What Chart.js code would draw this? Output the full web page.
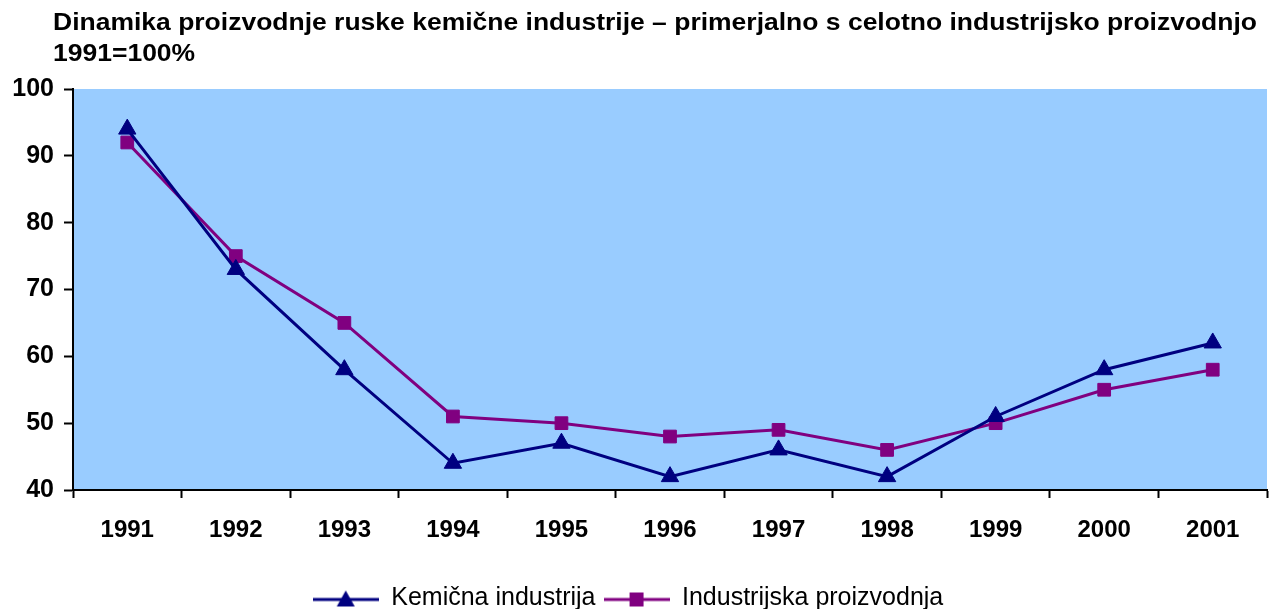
<!DOCTYPE html>
<html>
<head>
<meta charset="utf-8">
<script src="https://cdn.jsdelivr.net/npm/chart.js@4"></script>
<style>
  html, body { margin: 0; padding: 0; background: #fff; overflow: hidden; }
  #wrap { width: 1278px; height: 609px; position: relative; }
</style>
</head>
<body>
<div id="wrap"><canvas id="chemChart"></canvas></div>
<script>
const titleLines = ['Dinamika proizvodnje ruske kemične industrije – primerjalno s celotno industrijsko proizvodnjo', '1991=100%'];
const years = ['1991', '1992', '1993', '1994', '1995', '1996', '1997', '1998', '1999', '2000', '2001'];
const chemical = [94, 73, 58, 44, 47, 42, 46, 42, 51, 58, 62];
const industry = [92, 75, 65, 51, 50, 48, 49, 46, 50, 55, 58];
const seriesNames = ['Kemična industrija', 'Industrijska proizvodnja'];

const NAVY = '#000080';
const PURPLE = '#800080';
const FONT = '"Liberation Sans", Arial, sans-serif';

// small line+marker images for the legend
function legendIcon(color, shape) {
    const c = document.createElement('canvas');
    c.width = 66;
    c.height = 20;
    const g = c.getContext('2d');
    g.strokeStyle = color;
    g.lineWidth = 3;
    g.beginPath();
    g.moveTo(0, 11);
    g.lineTo(66, 11);
    g.stroke();
    g.fillStyle = color;
    g.beginPath();
    if (shape === 'triangle') {
        g.moveTo(33, 2);
        g.lineTo(42, 18);
        g.lineTo(24, 18);
        g.closePath();
    } else {
        g.rect(26, 4, 14, 14);
    }
    g.fill();
    return c;
}

const icons = [legendIcon(NAVY, 'triangle'), legendIcon(PURPLE, 'rect')];

const titlePlugin = {
    id: 'leftTitle',
    afterDraw(chart) {
        const ctx = chart.ctx;
        ctx.save();
        ctx.fillStyle = '#000';
        ctx.font = 'bold 23px ' + FONT;
        ctx.textBaseline = 'alphabetic';
        ctx.textAlign = 'left';
        const w = ctx.measureText(titleLines[0]).width;
        const sx = 1204 / w;
        ctx.translate(53, 0);
        ctx.scale(sx, 1);
        ctx.fillText(titleLines[0], 0, 30);
        ctx.fillText(titleLines[1], 0, 61);
        ctx.restore();
    }
};

const legendShift = {
    id: 'legendShift',
    afterLayout(chart) {
        if (chart.legend) {
            chart.legend.left -= 11;
            chart.legend.right -= 11;
        }
    }
};

const ctx = document.getElementById('chemChart').getContext('2d');
new Chart(ctx, {
    type: 'line',
    data: {
        labels: years,
        datasets: [{
            label: seriesNames[0],
            data: chemical,
            borderColor: NAVY,
            backgroundColor: NAVY,
            borderWidth: 3,
            pointStyle: 'triangle',
            pointRadius: 10,
            pointBorderWidth: 1,
            tension: 0
        }, {
            label: seriesNames[1],
            data: industry,
            borderColor: PURPLE,
            backgroundColor: PURPLE,
            borderWidth: 3,
            pointStyle: 'rect',
            pointRadius: 9,
            pointBorderWidth: 1,
            tension: 0
        }]
    },
    options: {
        responsive: true,
        maintainAspectRatio: false,
        animation: false,
        layout: {
            padding: { top: 89, left: 0, right: 0, bottom: -12 }
        },
        scales: {
            x: {
                offset: true,
                grid: {
                    offset: true,
                    drawOnChartArea: false,
                    drawTicks: true,
                    tickLength: 8,
                    tickWidth: 2,
                    tickColor: '#000'
                },
                border: { color: '#000', width: 2 },
                ticks: {
                    color: '#000',
                    padding: 18,
                    font: { family: FONT, size: 24, weight: 'bold' },
                    maxRotation: 0,
                    autoSkip: false
                },
                afterFit(scale) { scale.height = 88; }
            },
            y: {
                min: 40,
                max: 100,
                grid: {
                    drawOnChartArea: false,
                    tickLength: 9,
                    tickWidth: 2,
                    tickColor: '#000'
                },
                border: { color: '#000', width: 2 },
                ticks: {
                    stepSize: 10,
                    color: '#000',
                    padding: 10,
                    font: { family: FONT, size: 25, weight: 'bold' }
                },
                afterFit(scale) { scale.width = 73; }
            }
        },
        plugins: {
            title: { display: false },
            tooltip: { enabled: false },
            legend: {
                position: 'bottom',
                labels: {
                    usePointStyle: true,
                    pointStyleWidth: 66,
                    color: '#000',
                    padding: 8,
                    font: { family: FONT, size: 25 },
                    generateLabels(chart) {
                        return chart.data.datasets.map((ds, i) => ({
                            text: ds.label,
                            fillStyle: ds.backgroundColor,
                            strokeStyle: ds.borderColor,
                            lineWidth: 0,
                            pointStyle: icons[i],
                            hidden: false,
                            datasetIndex: i,
                            fontColor: '#000'
                        }));
                    }
                }
            }
        }
    },
    plugins: [{
        id: 'plotBackground',
        beforeDraw(chart) {
            const a = chart.chartArea;
            const c = chart.ctx;
            c.save();
            c.fillStyle = '#99CCFF';
            c.fillRect(a.left, a.top, a.right - a.left, a.bottom - a.top);
            c.restore();
        }
    }, titlePlugin, legendShift]
});
</script>
</body>
</html>
